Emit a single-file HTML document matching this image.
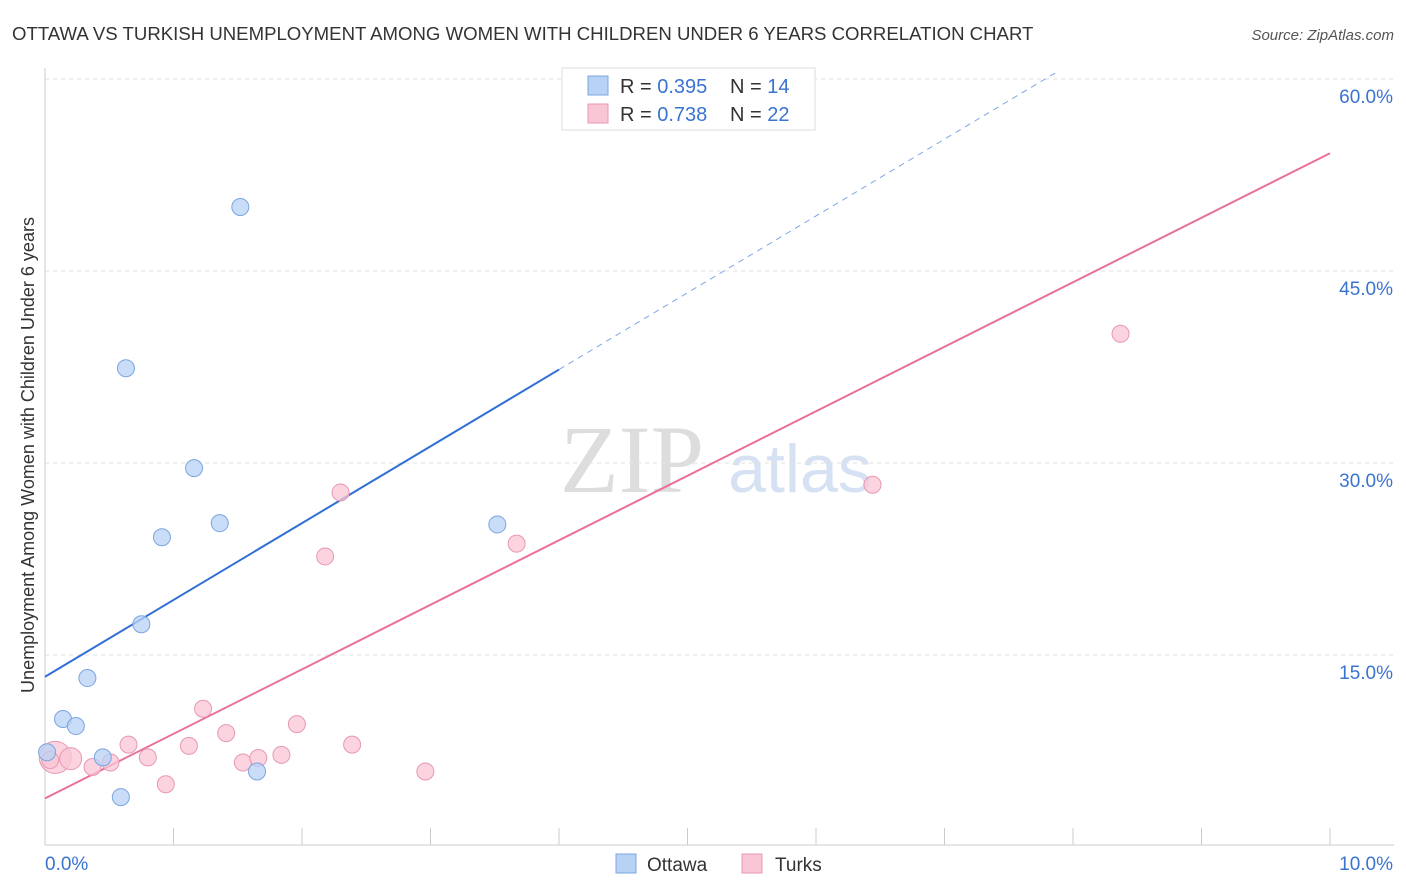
<!DOCTYPE html>
<html><head><meta charset="utf-8"><style>
body{margin:0;background:#fff;font-family:"Liberation Sans",sans-serif;}
svg{display:block}
</style></head><body>
<svg id="chart" width="1406" height="892">
<text x="12" y="40" font-size="18.6" fill="#333">OTTAWA VS TURKISH UNEMPLOYMENT AMONG WOMEN WITH CHILDREN UNDER 6 YEARS CORRELATION CHART</text>
<text x="1394" y="40" font-size="15" fill="#555" text-anchor="end" font-style="italic">Source: ZipAtlas.com</text>
<text x="632" y="492" font-size="96" fill="#ddd" font-family="Liberation Serif,serif" text-anchor="middle">ZIP</text>
<text x="800" y="492" font-size="68" fill="#d6e2f3" text-anchor="middle">atlas</text>
<text transform="translate(34,455) rotate(-90)" font-size="18" fill="#333" text-anchor="middle">Unemployment Among Women with Children Under 6 years</text>
<g id="grid"></g><g id="marks"></g>
<g>
<rect x="562" y="68" width="253" height="62" fill="#fff" stroke="#ddd"/>
<rect x="588" y="76" width="20" height="19" fill="#b8d2f5" stroke="#7aa5e0"/>
<text x="620" y="93" font-size="20" fill="#333">R = <tspan fill="#3a74d0">0.395</tspan></text>
<text x="730" y="93" font-size="20" fill="#333">N = <tspan fill="#3a74d0">14</tspan></text>
<rect x="588" y="104" width="20" height="19" fill="#f9c6d6" stroke="#e898b2"/>
<text x="620" y="121" font-size="20" fill="#333">R = <tspan fill="#3a74d0">0.738</tspan></text>
<text x="730" y="121" font-size="20" fill="#333">N = <tspan fill="#3a74d0">22</tspan></text>
</g>
<g>
<rect x="616" y="854" width="20" height="19" fill="#b8d2f5" stroke="#7aa5e0"/>
<text x="647" y="871" font-size="19" fill="#333">Ottawa</text>
<rect x="742" y="854" width="20" height="19" fill="#f9c6d6" stroke="#e898b2"/>
<text x="775" y="871" font-size="19" fill="#333">Turks</text>
</g>
</svg>
<script>
const yTicks=[15,30,45,60];
const yTickLabels=["15.0%","30.0%","45.0%","60.0%"];
const xTicks=[0,1,2,3,4,5,6,7,8,9,10];
const ottawaX=[0.016,0.14,0.24,0.33,0.45,0.59,0.63,0.75,0.91,1.16,1.36,1.52,1.65,3.52];
const ottawaY=[7.4,10.0,9.45,13.2,7.0,3.9,37.4,17.4,24.2,29.6,25.3,50.0,5.9,25.2];
const turksX=[0.08,0.2,0.37,0.51,0.65,0.8,0.94,1.12,1.23,1.41,1.54,1.66,1.84,1.96,2.18,2.3,2.39,2.96,3.67,6.44,8.37,0.04];
const turksY=[7.0,6.9,6.25,6.6,8.0,7.0,4.9,7.9,10.8,8.9,6.6,6.95,7.2,9.6,22.7,27.7,8.0,5.9,23.7,28.3,40.1,6.8];
const ottawaTrend=[13.3,37.3];
const turksTrend=[3.8,54.2];
const X=v=>45+v*128.5, Y=v=>847-v*12.8;
const NS="http://www.w3.org/2000/svg";
function mk(t,a,p){const e=document.createElementNS(NS,t);for(const k in a)e.setAttribute(k,a[k]);p.appendChild(e);return e;}
const g=document.getElementById('grid'), m=document.getElementById('marks');
yTicks.forEach((t,i)=>{
 const l=mk('line',{x1:45,x2:1394,y1:Y(t),y2:Y(t),stroke:'#e2e2e2','stroke-dasharray':'4,4'},g);
 
 
 const tx=mk('text',{x:1393,y:Y(t)+24,'font-size':19,fill:'#3a74d0','text-anchor':'end'},g);
 tx.textContent=yTickLabels[i];
 
 
});
const ax=mk('line',{x1:45,x2:45,y1:68,y2:845,stroke:'#ccc'},g);


const bx=mk('line',{x1:45,x2:1394,y1:845,y2:845,stroke:'#ccc'},g);


xTicks.forEach(t=>{
 const l=mk('line',{x1:X(t),x2:X(t),y1:828,y2:845,stroke:'#ccc'},g);
 
 
});
const x0=mk('text',{x:45,y:870,'font-size':19,fill:'#3a74d0'},g);x0.textContent='0.0%';


const x1=mk('text',{x:1393,y:870,'font-size':19,fill:'#3a74d0','text-anchor':'end'},g);x1.textContent='10.0%';


const sB=(ottawaTrend[1]-ottawaTrend[0])/4;
const tb=mk('line',{x1:X(0),y1:Y(ottawaTrend[0]),x2:X(4),y2:Y(ottawaTrend[1]),stroke:'#2f6fd6','stroke-width':2},m);


const xe=(60.5-ottawaTrend[0])/sB;
const td=mk('line',{x1:X(4),y1:Y(ottawaTrend[1]),x2:X(xe),y2:Y(60.5),stroke:'#7fa6e6','stroke-width':1,'stroke-dasharray':'6,5'},m);


const tp=mk('line',{x1:X(0),y1:Y(turksTrend[0]),x2:X(10),y2:Y(turksTrend[1]),stroke:'#e8709a','stroke-width':2},m);


turksX.forEach((x,i)=>{
 const c=mk('circle',{cx:X(x),cy:Y(turksY[i]),r:i==0?16:(i==1?11:8.5),fill:'#f9c6d6','fill-opacity':0.75,stroke:'#e898b2'},m);
 
 
});
ottawaX.forEach((x,i)=>{
 const c=mk('circle',{cx:X(x),cy:Y(ottawaY[i]),r:8.5,fill:'#b8d2f5','fill-opacity':0.75,stroke:'#7aa5e0'},m);
 
 
});
</script>
</body></html>
